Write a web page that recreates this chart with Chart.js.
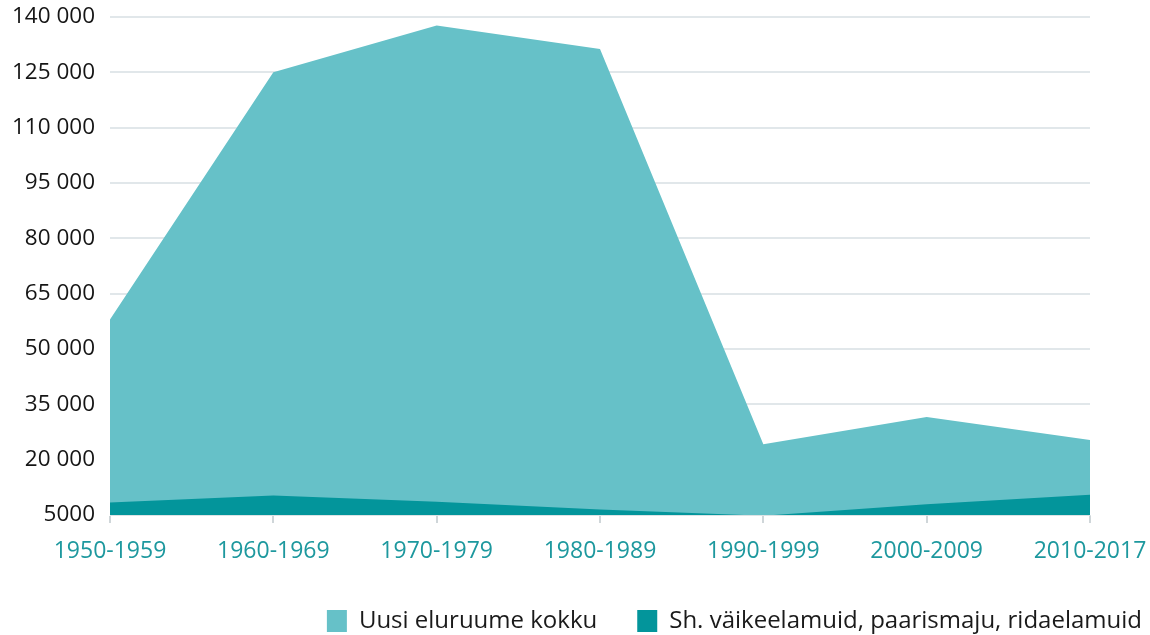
<!DOCTYPE html>
<html lang="et">
<head>
<meta charset="utf-8">
<title>Uued eluruumid kümnendite kaupa</title>
<script src="https://cdn.jsdelivr.net/npm/chart.js@4.4.1/dist/chart.umd.min.js"></script>
<style>
  html, body { margin: 0; padding: 0; background: #ffffff; }
  #wrap { width: 1150px; height: 635px; position: relative; }
</style>
</head>
<body>
<div id="wrap"><canvas id="chart" width="1150" height="635"></canvas></div>
<script>
// Decades shown on the x axis
const periods = ['1950-1959', '1960-1969', '1970-1979', '1980-1989', '1990-1999', '2000-2009', '2010-2017'];

// New dwellings in total
const totalDwellings = [58000, 125000, 137700, 131300, 24200, 31600, 25300];

// Of which detached, semi-detached and terraced houses
const smallHouses = [8400, 10300, 8600, 6500, 4800, 7900, 10500];

// Y axis range and tick step
const yMin = 5000;
const yMax = 140000;
const yStep = 15000;

const seriesNames = ['Uusi eluruume kokku', 'Sh. väikeelamuid, paarismaju, ridaelamuid'];

function formatThousands(v) {
  const s = String(Math.round(v));
  if (s.length <= 4) return s;
  return s.replace(/\B(?=(\d{3})+(?!\d))/g, ' ');
}

const fontFamily = '"Open Sans", "Noto Sans", sans-serif';

new Chart(document.getElementById('chart'), {
  type: 'line',
  data: {
    labels: periods,
    datasets: [
      {
        label: seriesNames[0],
        data: totalDwellings,
        backgroundColor: '#66c1c8',
        borderColor: '#66c1c8',
        borderWidth: 0,
        pointRadius: 0,
        fill: 'start',
        tension: 0,
        order: 2
      },
      {
        label: seriesNames[1],
        data: smallHouses,
        backgroundColor: '#03959b',
        borderColor: '#03959b',
        borderWidth: 0,
        pointRadius: 0,
        fill: 'start',
        tension: 0,
        order: 1
      }
    ]
  },
  options: {
    responsive: false,
    animation: false,
    layout: { padding: { left: 0, right: -32, top: -5, bottom: -8 } },
    plugins: {
      tooltip: { enabled: false },
      legend: {
        position: 'bottom',
        align: 'end',
        labels: {
          sort: (a, b) => a.datasetIndex - b.datasetIndex,
          boxWidth: 20,
          boxHeight: 22,
          padding: 40,
          color: '#1a1a1a',
          font: { family: fontFamily, size: 24 }
        }
      }
    },
    scales: {
      x: {
        offset: false,
        afterFit: (scale) => {
          scale.height = 54;
          scale.paddingLeft = 0;
          scale.paddingRight = 60;
        },
        grid: {
          drawOnChartArea: false,
          drawTicks: true,
          tickLength: 8,
          color: '#cfd6d9',
          lineWidth: 2
        },
        border: { display: true, color: '#dde3e5', width: 1 },
        ticks: {
          color: '#1d989e',
          padding: 15,
          maxRotation: 0,
          font: { family: fontFamily, size: 23 }
        }
      },
      y: {
        min: yMin,
        max: yMax,
        afterFit: (scale) => {
          scale.width = 110;
          scale.paddingTop = 17;
          scale.paddingBottom = 0;
        },
        grid: {
          drawTicks: false,
          color: '#e1e7ea',
          lineWidth: 2
        },
        border: { display: false },
        ticks: {
          stepSize: yStep,
          padding: 15,
          color: '#151515',
          font: { family: fontFamily, size: 22.5 },
          callback: (v) => formatThousands(v)
        }
      }
    }
  }
});
</script>
</body>
</html>
